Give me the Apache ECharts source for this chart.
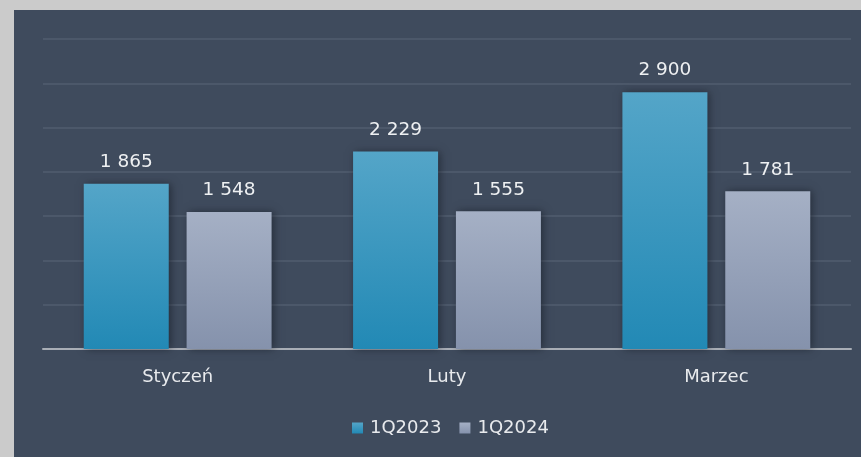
<!DOCTYPE html>
<html style="height: 100%;">
<head>
<meta charset="utf-8">
<title>1Q2023 vs 1Q2024</title>
<script type="text/javascript" src="https://cdn.jsdelivr.net/npm/echarts@6/dist/echarts.min.js"></script>
</head>
<body style="height: 100%; margin: 0; background: #cbcbcb;">
<div id="container" style="position: absolute; left: 14px; top: 10px; width: 847px; height: 447px; background: #3f4b5d;"></div>
<script type="text/javascript">
var months = ['Styczeń', 'Luty', 'Marzec'];
var seriesNames = ['1Q2023', '1Q2024'];
var values2023 = [1865, 2229, 2900];
var values2024 = [1548, 1555, 1781];

var dom = document.getElementById('container');
var myChart = echarts.init(dom);

// liczby z odstępem tysięcy: 1 865
function fmt(v) {
    return String(v).replace(/\B(?=(\d{3})+(?!\d))/g, ' ');
}

function grad(top, bottom) {
    return new echarts.graphic.LinearGradient(0, 0, 0, 1, [
        { offset: 0, color: top },
        { offset: 1, color: bottom }
    ]);
}

var labelStyle = {
    show: true,
    position: 'top',
    distance: 12,
    color: '#eef0f2',
    fontFamily: 'DejaVu Sans',
    fontSize: 18.5,
    formatter: function (p) { return fmt(p.value); }
};

var option = {
    animation: false,
    textStyle: { fontFamily: 'DejaVu Sans' },
    grid: { left: 29, right: 10, top: 29, bottom: 108 },
    legend: {
        bottom: 15,
        left: 333,
        itemWidth: 11,
        itemHeight: 11,
        itemGap: 18,
        icon: 'rect',
        textStyle: { color: '#e8eaed', fontSize: 18, padding: [2, 0, 0, 2] },
        data: seriesNames
    },
    xAxis: {
        type: 'category',
        data: months,
        axisTick: { show: false },
        axisLine: { lineStyle: { color: '#a9aeb6', width: 2 } },
        axisLabel: { color: '#e8eaed', fontSize: 18, margin: 19 }
    },
    yAxis: {
        type: 'value',
        min: 0,
        max: 3500,
        interval: 500,
        axisLabel: { show: false },
        axisLine: { show: false },
        splitLine: { lineStyle: { color: '#4c586a', width: 2 } }
    },
    series: [
        {
            name: seriesNames[0],
            type: 'bar',
            data: values2023,
            barWidth: 85,
            barGap: '21%',
            itemStyle: {
                color: grad('#54a5c8', '#2289b5'),
                shadowColor: 'rgba(20,25,35,0.6)',
                shadowBlur: 8,
                shadowOffsetX: 2
            },
            label: labelStyle
        },
        {
            name: seriesNames[1],
            type: 'bar',
            data: values2024,
            barWidth: 85,
            itemStyle: {
                color: grad('#a5b0c5', '#8592ac'),
                shadowColor: 'rgba(20,25,35,0.6)',
                shadowBlur: 8,
                shadowOffsetX: 2
            },
            label: labelStyle
        }
    ]
};
myChart.setOption(option);

window.onresize = function () {
    myChart.resize();
};
</script>
</body>
</html>
